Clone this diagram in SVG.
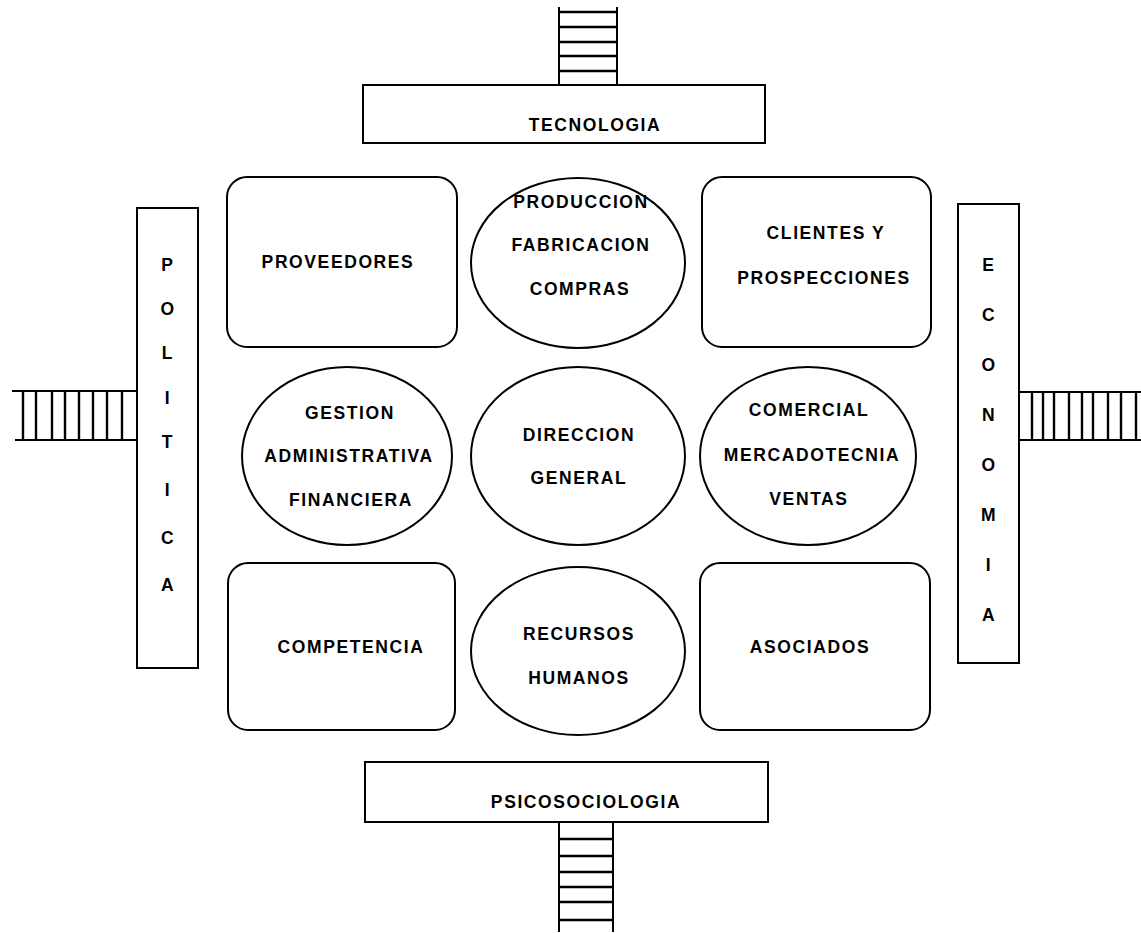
<svg xmlns="http://www.w3.org/2000/svg" width="1141" height="933" viewBox="0 0 1141 933">
<style>
.s{fill:#fff;stroke:#000;stroke-width:2}
.l{stroke:#000;stroke-width:2;fill:none}
.r{stroke:#000;stroke-width:2.4;fill:none}
text{font-family:"Liberation Sans",Arial,sans-serif;font-weight:bold;font-size:17.5px;letter-spacing:1.6px;text-anchor:middle;fill:#000}
</style>
<rect width="1141" height="933" fill="#fff"/>
<g id="connectors">
  <g id="ladder-top">
    <path class="l" d="M559,7V85M617,7V85"/>
    <path class="r" d="M559,12H617M559,27H617M559,42H617M559,56H617M559,71H617"/>
  </g>
  <g id="ladder-bottom">
    <path class="l" d="M559,822V932M613,822V932"/>
    <path class="r" d="M559,839H613M559,856H613M559,872H613M559,887H613M559,902H613M559,920H613"/>
  </g>
  <g id="ladder-left">
    <path class="l" d="M12,391H137M15,440H137"/>
    <path class="r" d="M23,391V440M36,391V440M52,391V440M65,391V440M79,391V440M93,391V440M107,391V440M122,391V440"/>
  </g>
  <g id="ladder-right">
    <path class="l" d="M1019,392H1141M1019,440H1141"/>
    <path class="r" d="M1032,392V440M1043,392V440M1054,392V440M1069,392V440M1082,392V440M1093,392V440M1108,392V440M1121,392V440M1136,392V440"/>
  </g>
</g>
<g id="tecnologia">
  <rect class="s" x="363" y="85" width="402" height="58"/>
  <text x="595" y="131">TECNOLOGIA</text>
</g>
<g id="psicosociologia">
  <rect class="s" x="365" y="762" width="403" height="60"/>
  <text x="586" y="808">PSICOSOCIOLOGIA</text>
</g>
<g id="politica">
  <rect class="s" x="137" y="208" width="61" height="460"/>
  <text x="168" y="271">P</text>
  <text x="168" y="315">O</text>
  <text x="168" y="359">L</text>
  <text x="168" y="404">I</text>
  <text x="168" y="448">T</text>
  <text x="168" y="496">I</text>
  <text x="168" y="544">C</text>
  <text x="168" y="591">A</text>
</g>
<g id="economia">
  <rect class="s" x="958" y="204" width="61" height="459"/>
  <text x="989" y="271">E</text>
  <text x="989" y="321">C</text>
  <text x="989" y="371">O</text>
  <text x="989" y="421">N</text>
  <text x="989" y="471">O</text>
  <text x="989" y="521">M</text>
  <text x="989" y="571">I</text>
  <text x="989" y="621">A</text>
</g>
<g id="proveedores">
  <rect class="s" x="227" y="177" width="230" height="170" rx="20"/>
  <text x="338" y="268">PROVEEDORES</text>
</g>
<g id="clientes">
  <rect class="s" x="702" y="177" width="229" height="170" rx="20"/>
  <text x="826" y="239">CLIENTES Y</text>
  <text x="824" y="284">PROSPECCIONES</text>
</g>
<g id="competencia">
  <rect class="s" x="228" y="563" width="227" height="167" rx="20"/>
  <text x="351" y="653">COMPETENCIA</text>
</g>
<g id="asociados">
  <rect class="s" x="700" y="563" width="230" height="167" rx="20"/>
  <text x="810" y="653">ASOCIADOS</text>
</g>
<g id="produccion">
  <ellipse class="s" cx="578" cy="263" rx="107" ry="85"/>
  <text x="581" y="208">PRODUCCION</text>
  <text x="581" y="251">FABRICACION</text>
  <text x="580" y="295">COMPRAS</text>
</g>
<g id="gestion">
  <ellipse class="s" cx="347" cy="456" rx="105" ry="89"/>
  <text x="350" y="419">GESTION</text>
  <text x="349" y="462">ADMINISTRATIVA</text>
  <text x="351" y="506">FINANCIERA</text>
</g>
<g id="direccion">
  <ellipse class="s" cx="578" cy="456" rx="107" ry="89"/>
  <text x="579" y="441">DIRECCION</text>
  <text x="579" y="484">GENERAL</text>
</g>
<g id="comercial">
  <ellipse class="s" cx="808" cy="456" rx="108" ry="89"/>
  <text x="809" y="416">COMERCIAL</text>
  <text x="812" y="461">MERCADOTECNIA</text>
  <text x="809" y="505">VENTAS</text>
</g>
<g id="recursos">
  <ellipse class="s" cx="578" cy="651" rx="107" ry="84"/>
  <text x="579" y="640">RECURSOS</text>
  <text x="579" y="684">HUMANOS</text>
</g>
</svg>
